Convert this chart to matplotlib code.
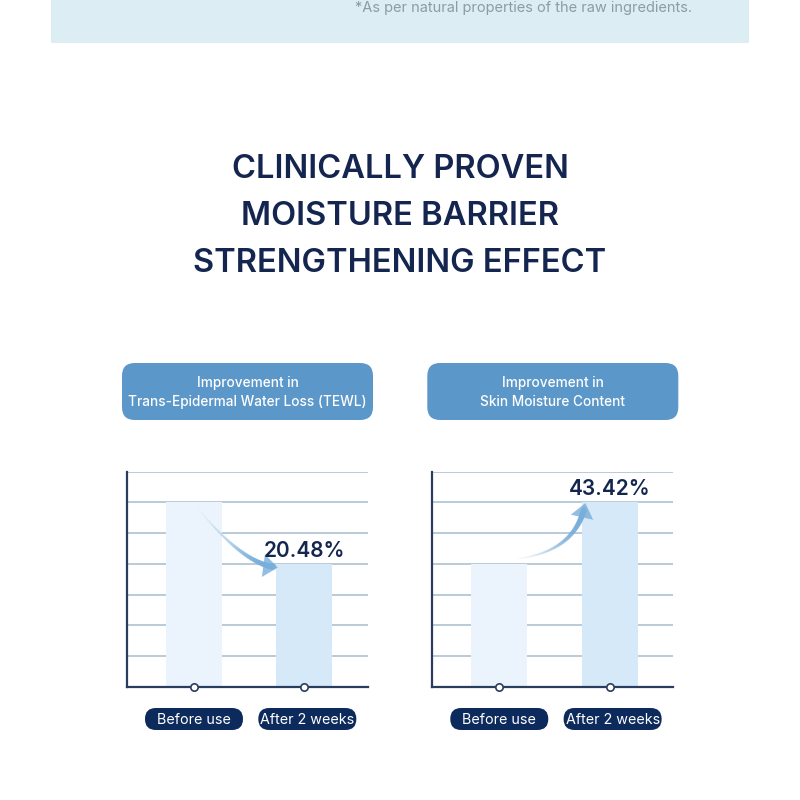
import matplotlib
matplotlib.use("Agg")
import matplotlib.pyplot as plt
import numpy as np
from matplotlib.collections import LineCollection
from matplotlib.patches import FancyBboxPatch, FancyArrowPatch, Rectangle

# ── Data ──────────────────────────────────────────────────────────────────────
TITLE_LINES = ["CLINICALLY PROVEN", "MOISTURE BARRIER", "STRENGTHENING EFFECT"]
FOOTNOTE = "*As per natural properties of the raw ingredients."
PHASES = ["Before use", "After 2 weeks"]
PANEL_TITLES = ["Improvement in\nTrans-Epidermal Water Loss (TEWL)",
                "Improvement in\nSkin Moisture Content"]
TEWL_LEVELS = [6, 4]          # relative bar heights (grid units)
MOISTURE_LEVELS = [4, 6]
CHANGE_LABELS = ["20.48%", "43.42%"]
GRID_LEVELS = [1, 2, 3, 4, 5, 6, 7]

# ── Styling ───────────────────────────────────────────────────────────────────
NAVY = "#14264f"
AXIS = "#2b3d5f"
GRID = "#a7bccb"
BOX_BLUE = "#5b97c9"
BAND = "#dcedf3"
BAR_COLORS = ["#ebf4fc", "#d6e9f8"]
ARROW_BLUE = "#78aedb"
FONT = "Inter"

W = H = 800
fig = plt.figure(figsize=(8, 8), dpi=100, facecolor="white")


def fx(px):
    return px / W


def fy(py):
    return 1 - py / H


# top band with footnote
fig.patches.append(Rectangle((fx(51), fy(43)), fx(698), 43 / H,
                             transform=fig.transFigure, fc=BAND, ec="none"))
fig.text(fx(692), fy(1), FOOTNOTE, ha="right", va="top", fontsize=10.5,
         color="#8d9ca6", family=FONT)

# title
for i, line in enumerate(TITLE_LINES):
    fig.text(0.5, fy(170 + i * 46.5), line, ha="center", va="center",
             fontsize=23.5, fontweight="semibold", color=NAVY, family=FONT)


def gradient_arrow(ax, p0, ctrl, p1):
    t = np.linspace(0, 1, 60)
    pts = ((1 - t)[:, None] ** 2 * np.array(p0)
           + 2 * ((1 - t) * t)[:, None] * np.array(ctrl)
           + (t ** 2)[:, None] * np.array(p1))
    segs = np.stack([pts[:-1], pts[1:]], axis=1)
    alphas = np.linspace(0.0, 0.8, len(segs))
    widths = np.linspace(0.6, 4.5, len(segs))
    rgb = matplotlib.colors.to_rgb(ARROW_BLUE)
    cols = [(*rgb, a) for a in alphas]
    lc = LineCollection(segs[:-4], colors=cols[:-4], linewidths=widths[:-4],
                        capstyle="round", zorder=4)
    ax.add_collection(lc)
    arr = FancyArrowPatch(pts[-6], pts[-1], arrowstyle="-|>,head_length=0.7,head_width=0.55",
                          mutation_scale=15, color=ARROW_BLUE, alpha=0.8, lw=0,
                          zorder=4, shrinkA=0, shrinkB=0)
    ax.add_patch(arr)


def draw_panel(left_px, levels, box_title, label, arrow_kind):
    ax = fig.add_axes([fx(left_px), fy(686.7), fx(241), 215 / H])
    x = np.arange(len(levels))
    ax.set_xlim(-0.607, 1.577)
    ax.set_ylim(0, 7)
    for g in GRID_LEVELS:
        ax.axhline(g, color=GRID, lw=1.1, zorder=1)
    ax.bar(x, levels, width=0.508, color=BAR_COLORS, zorder=2)
    ax.scatter(x, [0] * len(x), s=28, facecolor="white", edgecolor=AXIS,
               linewidth=1.2, zorder=5, clip_on=False)
    for side in ["top", "right"]:
        ax.spines[side].set_visible(False)
    for side in ["left", "bottom"]:
        ax.spines[side].set_color(AXIS)
        ax.spines[side].set_linewidth(1.6)
    ax.set_xticks([])
    ax.set_yticks([])
    ax.patch.set_alpha(0)

    # change label above the "after" bar
    ax.text(x[1], levels[1] + 0.1, label, ha="center", va="bottom",
            fontsize=15, color=NAVY, family=FONT, fontweight="semibold", zorder=6)

    # curved arrow from before bar to after bar
    if arrow_kind == "down":
        p0 = (x[0] + 0.01, levels[0] - 0.08)
        p1 = (x[1] - 0.24, levels[1] - 0.12)
        ctrl = (x[0] + 0.45, levels[1] - 0.05)
    else:
        p0 = (x[0] + 0.12, levels[0] + 0.15)
        p1 = (x[1] - 0.22, levels[1] - 0.02)
        ctrl = (x[1] - 0.3, levels[0] + 0.35)
    gradient_arrow(ax, p0, ctrl, p1)

    # header box
    bx = left_px - 5
    fig.patches.append(FancyBboxPatch((fx(bx), fy(420)), fx(251), 57 / H,
                                      boxstyle="round,pad=0,rounding_size=0.016",
                                      transform=fig.transFigure, fc=BOX_BLUE, ec="none"))
    fig.text(fx(bx + 125.5), fy(392.5), box_title, ha="center", va="center",
             fontsize=9.8, color="white", family=FONT, fontweight="medium",
             linespacing=1.5)

    # phase pills
    for xi, phase in zip(x, PHASES):
        cx = ax.transData.transform((xi, 0))[0] / W
        cx = cx + (0 if phase == PHASES[0] else fx(3))
        fig.patches.append(FancyBboxPatch((cx - fx(49), fy(730)), fx(98), 22 / H,
                                          boxstyle="round,pad=0,rounding_size=0.0135",
                                          transform=fig.transFigure, fc="#0d2a5c", ec="none"))
        fig.text(cx, fy(719.5), phase, ha="center", va="center", fontsize=10.3,
                 color="white", family=FONT)
    return ax


draw_panel(127, TEWL_LEVELS, PANEL_TITLES[0], CHANGE_LABELS[0], "down")
draw_panel(432.3, MOISTURE_LEVELS, PANEL_TITLES[1], CHANGE_LABELS[1], "up")

fig.savefig("out.png", dpi=100, facecolor="white")
